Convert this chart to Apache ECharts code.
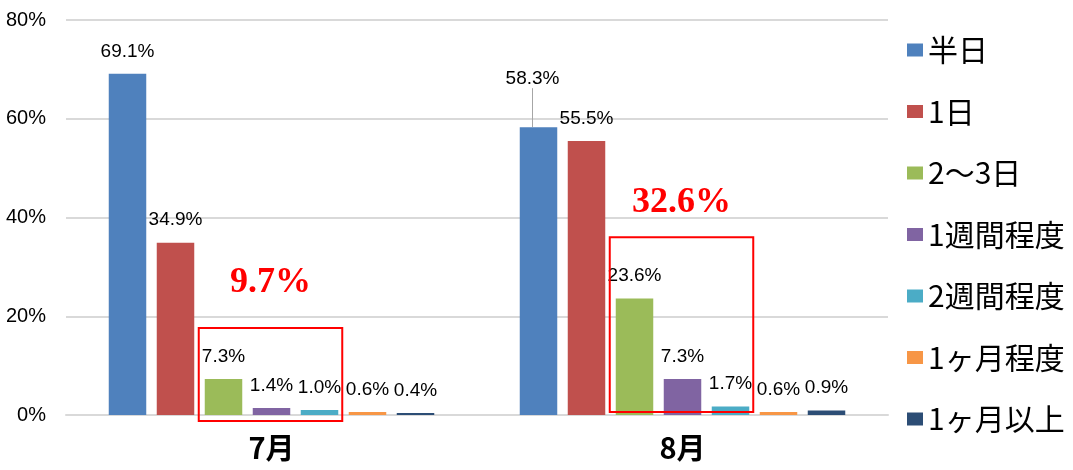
<!DOCTYPE html>
<html>
<head>
<meta charset="utf-8">
<script src="https://cdn.jsdelivr.net/npm/echarts@6/dist/echarts.min.js"></script>
<style>
html,body{margin:0;padding:0;background:#fff;}
#main{width:1073px;height:470px;}
</style>
</head>
<body>
<div id="main"></div>
<script>
// ---- data ----
const categories = ['7月', '8月'];
const seriesNames = ['半日', '1日', '2〜3日', '1週間程度', '2週間程度', '1ヶ月程度', '1ヶ月以上'];
const halfDay   = [69.1, 58.3];
const oneDay    = [34.9, 55.5];
const twoThree  = [7.3, 23.6];
const oneWeek   = [1.4, 7.3];
const twoWeeks  = [1.0, 1.7];
const oneMonth  = [0.6, 0.6];
const overMonth = [0.4, 0.9];
const yTicks = [0, 20, 40, 60, 80];
const groupTotals = ['9.7%', '32.6%'];   // share of 2〜3日 + 1週間程度 + 2週間程度
const boxTopValues = [17.6, 36];          // annotation box top (axis value)
const totalLabelValues = [26.7, 42.9];    // annotation text centre (axis value)

const colors = ['#4F81BD', '#C0504D', '#9BBB59', '#8064A2', '#4BACC6', '#F79646', '#2C4D75'];
const values = [halfDay, oneDay, twoThree, oneWeek, twoWeeks, oneMonth, overMonth];
const numFont = "'Liberation Sans', Arial, sans-serif";
const jpFont = "'Noto Sans CJK JP', sans-serif";

const chart = echarts.init(document.getElementById('main'), null, {renderer: 'canvas'});

const series = seriesNames.map((name, i) => {
  const s = {
    name: name,
    type: 'bar',
    data: values[i].map((v, j) => {
      // 8月 半日 label is moved up with a leader line
      if (i === 0 && j === 1) return {value: v, labelLine: {show: true}};
      return {value: v};
    }),
    barWidth: 37.5,
    barGap: '28%',
    itemStyle: {color: colors[i]},
    label: {
      show: true,
      position: 'top',
      distance: 13,
      color: '#000',
      fontFamily: numFont,
      fontSize: 19,
      formatter: p => p.value.toFixed(1) + '%'
    },
    labelLine: {show: false, lineStyle: {color: '#a6a6a6', width: 1}}
  };
  if (i === 0) {
    s.labelLayout = function (params) {
      if (params.dataIndex === 1) return {dx: -6, dy: -26};
      return {};
    };
  }
  return s;
});

chart.setOption({
  animation: false,
  backgroundColor: '#fff',
  grid: {left: 66, right: 185, top: 20, bottom: 55, containLabel: false},
  legend: {
    orient: 'vertical',
    left: 902,
    top: 30,
    itemWidth: 16,
    itemHeight: 13,
    itemGap: 31.5,
    icon: 'rect',
    textStyle: {fontFamily: jpFont, fontSize: 30, color: '#000', lineHeight: 30},
    data: seriesNames
  },
  xAxis: {
    type: 'category',
    data: categories,
    axisTick: {show: false},
    axisLine: {show: true, lineStyle: {color: '#d9d9d9', width: 2}},
    axisLabel: {fontFamily: jpFont, fontWeight: 'bold', fontSize: 29, color: '#000', margin: 18}
  },
  yAxis: {
    type: 'value',
    min: yTicks[0],
    max: yTicks[yTicks.length - 1],
    interval: yTicks[1] - yTicks[0],
    axisLine: {show: false},
    axisTick: {show: false},
    splitLine: {lineStyle: {color: '#d9d9d9', width: 2}},
    axisLabel: {fontFamily: numFont, fontSize: 20, color: '#000', margin: 20, formatter: v => v + '%'}
  },
  series: series
});

function drawAnnotations() {
  const model = chart.getModel();
  const greenData = model.getSeriesByIndex(2).getData();
  const cyanData = model.getSeriesByIndex(4).getData();
  const y0 = chart.convertToPixel({yAxisIndex: 0}, 0);
  const bottomOffsets = [6, -3];
  const graphics = [];
  categories.forEach((c, j) => {
    const g = greenData.getItemLayout(j);
    const cy = cyanData.getItemLayout(j);
    const left = g.x - 6;
    const right = cy.x + cy.width + 4;
    const top = chart.convertToPixel({yAxisIndex: 0}, boxTopValues[j]);
    const bottom = y0 + bottomOffsets[j];
    graphics.push({
      type: 'rect',
      shape: {x: left, y: top, width: right - left, height: bottom - top},
      style: {fill: 'none', stroke: '#FF0000', lineWidth: 2},
      z: 100
    });
    graphics.push({
      type: 'text',
      x: (left + right) / 2,
      y: chart.convertToPixel({yAxisIndex: 0}, totalLabelValues[j]),
      style: {
        text: groupTotals[j],
        fill: '#FF0000',
        font: "bold 36px 'Liberation Serif', 'DejaVu Serif', serif",
        align: 'center',
        verticalAlign: 'middle'
      },
      z: 100
    });
  });
  chart.setOption({graphic: graphics});
}
drawAnnotations();
</script>
</body>
</html>
